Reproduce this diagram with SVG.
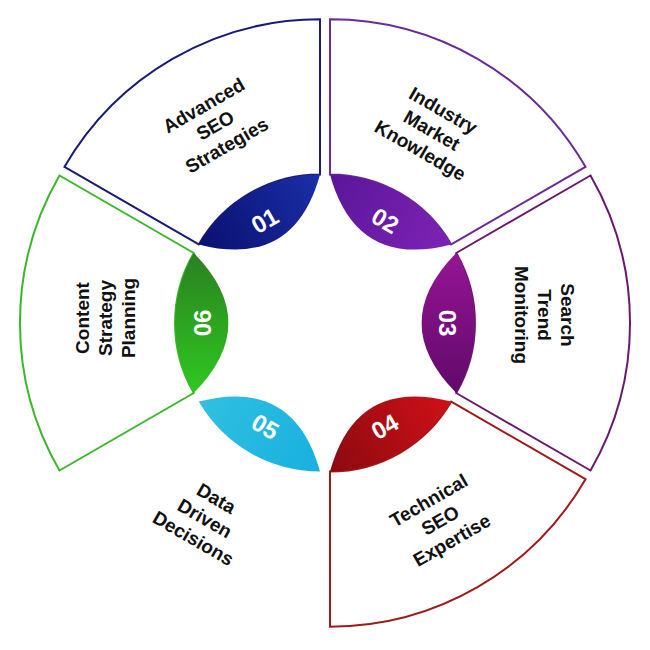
<svg xmlns="http://www.w3.org/2000/svg" width="650" height="650" viewBox="0 0 650 650">
<style>
.sec{fill:#fff;stroke-width:2}
.num{font-family:"Liberation Sans",Arial,sans-serif;font-weight:bold;font-size:24px;fill:#fff;text-anchor:middle}
.lbl{font-family:"Liberation Sans",Arial,sans-serif;font-weight:bold;font-size:19px;fill:#111;text-anchor:middle}
</style>
<defs>
<path id="sector" d="M -70,-121.2 L -147.5,-255.5 A 295 295 0 0 1 147.5,-255.5 L 70,-121.2 A 140 140 0 0 0 -70,-121.2 Z"/>
<path id="petal" d="M -70,-121.2 A 140 140 0 0 1 70,-121.2 Q 0,-52 -70,-121.2 Z"/>
<linearGradient id="g1" x1="0" x2="1"><stop offset="0" stop-color="#0a1070"/><stop offset="1" stop-color="#1a2fa8"/></linearGradient>
<linearGradient id="g2" x1="0" x2="1"><stop offset="0" stop-color="#5a169a"/><stop offset="1" stop-color="#7e22b4"/></linearGradient>
<linearGradient id="g3" x1="0" x2="1"><stop offset="0" stop-color="#961496"/><stop offset="1" stop-color="#600a68"/></linearGradient>
<linearGradient id="g4" x1="0" x2="1"><stop offset="0" stop-color="#d01018"/><stop offset="1" stop-color="#8a0a10"/></linearGradient>
<linearGradient id="g5" x1="0" x2="1"><stop offset="0" stop-color="#18b0e0"/><stop offset="1" stop-color="#30c0e0"/></linearGradient>
<linearGradient id="g6" x1="0" x2="1"><stop offset="0" stop-color="#30c820"/><stop offset="1" stop-color="#2a8020"/></linearGradient>
</defs>
<g id="node-01" transform="translate(325,323) rotate(-30) translate(0,-10)">
<use href="#sector" class="sec" stroke="#1a1a78"/><use href="#petal" fill="url(#g1)"/>
</g>
<g id="node-02" transform="translate(325,323) rotate(30) translate(0,-10)">
<use href="#sector" class="sec" stroke="#6a2a9a"/><use href="#petal" fill="url(#g2)"/>
</g>
<g id="node-03" transform="translate(325,323) rotate(90) translate(0,-10)">
<use href="#sector" class="sec" stroke="#6a1a6e"/><use href="#petal" fill="url(#g3)"/>
</g>
<g id="node-04" transform="translate(325,323) rotate(150) translate(0,-10)">
<use href="#sector" class="sec" stroke="#a01a1a"/><use href="#petal" fill="url(#g4)"/>
</g>
<g id="node-05" transform="translate(325,323) rotate(210) translate(0,-10)">
<use href="#petal" fill="url(#g5)"/>
</g>
<g id="node-06" transform="translate(325,323) rotate(270) translate(0,-10)">
<use href="#sector" class="sec" stroke="#3ab82a"/><use href="#petal" fill="url(#g6)"/>
</g>
<g id="numbers">
<text class="num" transform="translate(265,221) rotate(-30)" dy="8">01</text>
<text class="num" transform="translate(385,221) rotate(30)" dy="8">02</text>
<text class="num" transform="translate(447,323) rotate(90)" dy="8">03</text>
<text class="num" transform="translate(385,427) rotate(-30)" dy="8">04</text>
<text class="num" transform="translate(265,427) rotate(30)" dy="8">05</text>
<text class="num" transform="translate(203,323) rotate(-90)" dy="8">06</text>
</g>
<g id="labels">
<g transform="translate(215,125) rotate(-30)"><text class="lbl" y="-16">Advanced</text><text class="lbl" y="7">SEO</text><text class="lbl" y="30">Strategies</text></g>
<g transform="translate(432,130) rotate(30)"><text class="lbl" y="-16">Industry</text><text class="lbl" y="7">Market</text><text class="lbl" y="30">Knowledge</text></g>
<g transform="translate(545,315) rotate(90)"><text class="lbl" y="-16">Search</text><text class="lbl" y="7">Trend</text><text class="lbl" y="30">Monitoring</text></g>
<g transform="translate(440,520) rotate(-30)"><text class="lbl" y="-16">Technical</text><text class="lbl" y="7">SEO</text><text class="lbl" y="30">Expertise</text></g>
<g transform="translate(205,518) rotate(30)"><text class="lbl" y="-16">Data</text><text class="lbl" y="7">Driven</text><text class="lbl" y="30">Decisions</text></g>
<g transform="translate(105,318) rotate(-90)"><text class="lbl" y="-16">Content</text><text class="lbl" y="7">Strategy</text><text class="lbl" y="30">Planning</text></g>
</g>
</svg>
